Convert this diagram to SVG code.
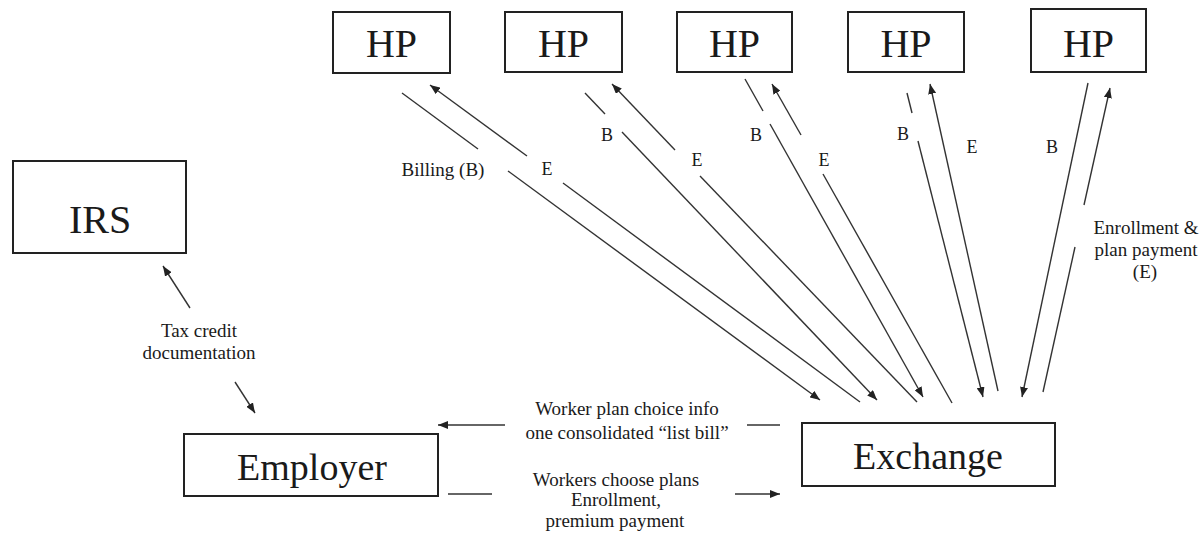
<svg xmlns="http://www.w3.org/2000/svg" width="1204" height="535" viewBox="0 0 1204 535">
<style>
.box{fill:#fff;stroke:#222;stroke-width:2}
.big{font-family:"Liberation Serif","Times New Roman",serif;fill:#1a1a1a;text-anchor:middle}
.lbl{font-family:"Liberation Serif","Times New Roman",serif;font-size:19px;fill:#1a1a1a;text-anchor:middle}
.be{font-family:"Liberation Serif","Times New Roman",serif;font-size:18px;fill:#1a1a1a;text-anchor:middle}
.ln{fill:none;stroke:#333;stroke-width:1.4}
.gl{fill:none;stroke:#666;stroke-width:2}
</style>
<defs>
<marker id="ah" markerUnits="userSpaceOnUse" markerWidth="10" markerHeight="8" refX="10" refY="4" orient="auto">
<path d="M0,0 L10,4 L0,8 z" fill="#222"/>
</marker>
</defs>
<rect width="1204" height="535" fill="#fff"/>
<g id="connectors">
<path class="ln" d="M402,93 L478,149"/>
<path class="ln" d="M508,171 L820,400" marker-end="url(#ah)"/>
<path class="ln" d="M860,402 L563,183"/>
<path class="ln" d="M527,156 L430,85" marker-end="url(#ah)"/>
<path class="ln" d="M585,93 L605,114"/>
<path class="ln" d="M622,132 L877,400" marker-end="url(#ah)"/>
<path class="ln" d="M917,402 L700,176"/>
<path class="ln" d="M675,150 L612,84" marker-end="url(#ah)"/>
<path class="ln" d="M745,79 L763,111"/>
<path class="ln" d="M770,124 L923,397" marker-end="url(#ah)"/>
<path class="ln" d="M952,403 L823,174"/>
<path class="ln" d="M801,135 L772,84" marker-end="url(#ah)"/>
<path class="ln" d="M907,93 L912,113"/>
<path class="ln" d="M918,141 L983,397" marker-end="url(#ah)"/>
<path class="ln" d="M998,391 L930,84" marker-end="url(#ah)"/>
<path class="ln" d="M1088,83 L1022,397" marker-end="url(#ah)"/>
<path class="ln" d="M1043,392 L1075,247"/>
<path class="ln" d="M1084,205 L1110,88" marker-end="url(#ah)"/>
<path class="ln" d="M190,308 L163,266" marker-end="url(#ah)"/>
<path class="ln" d="M235,382 L255,413" marker-end="url(#ah)"/>
<path class="gl" d="M780,425 L747,425"/>
<path class="gl" d="M505,425 L438,425" marker-end="url(#ah)"/>
<path class="gl" d="M448,494 L492,494"/>
<path class="gl" d="M735,494 L780,494" marker-end="url(#ah)"/>
</g>
<g id="labels">
<text class="lbl" x="443" y="176">Billing (B)</text>
<text class="be" x="547" y="175">E</text>
<text class="be" x="607" y="141">B</text>
<text class="be" x="697" y="166">E</text>
<text class="be" x="756" y="141">B</text>
<text class="be" x="824" y="166">E</text>
<text class="be" x="903" y="140">B</text>
<text class="be" x="972" y="153">E</text>
<text class="be" x="1052" y="153">B</text>
<text class="lbl" x="1146" y="234">Enrollment &amp;</text>
<text class="lbl" x="1146" y="256">plan payment</text>
<text class="lbl" x="1145" y="278">(E)</text>
<text class="lbl" x="199" y="337">Tax credit</text>
<text class="lbl" x="199" y="359">documentation</text>
<text class="lbl" x="627" y="415">Worker plan choice info</text>
<text class="lbl" x="627" y="439">one consolidated “list bill”</text>
<text class="lbl" x="616" y="486">Workers choose plans</text>
<text class="lbl" x="616" y="506">Enrollment,</text>
<text class="lbl" x="615" y="527">premium payment</text>
</g>
<g id="hp1"><rect class="box" x="333" y="12" width="117" height="61"/><text class="big" x="391.5" y="57" font-size="40">HP</text></g>
<g id="hp2"><rect class="box" x="505" y="12" width="117" height="60"/><text class="big" x="563.5" y="57" font-size="40">HP</text></g>
<g id="hp3"><rect class="box" x="677" y="12" width="115" height="60"/><text class="big" x="734.5" y="57" font-size="40">HP</text></g>
<g id="hp4"><rect class="box" x="848" y="12" width="116" height="60"/><text class="big" x="906" y="57" font-size="40">HP</text></g>
<g id="hp5"><rect class="box" x="1031" y="9" width="115" height="63"/><text class="big" x="1088.5" y="57" font-size="40">HP</text></g>
<g id="irs"><rect class="box" x="13" y="161" width="173" height="92"/><text class="big" x="100" y="233" font-size="40">IRS</text></g>
<g id="employer"><rect class="box" x="184" y="434" width="254" height="62"/><text class="big" x="312" y="480" font-size="38">Employer</text></g>
<g id="exchange"><rect class="box" x="802" y="423" width="253" height="63"/><text class="big" x="928" y="469" font-size="38">Exchange</text></g>
</svg>
